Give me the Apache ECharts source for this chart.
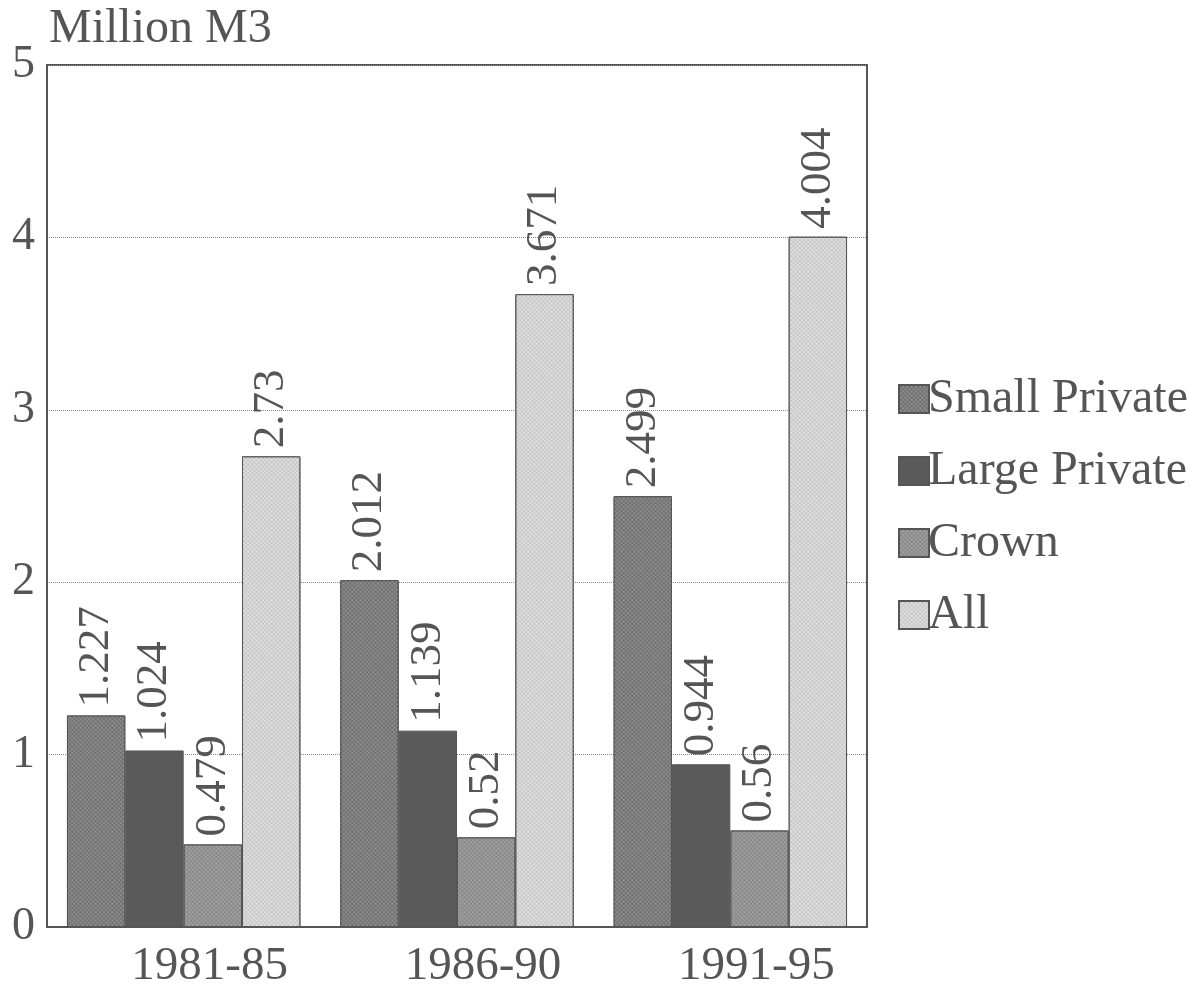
<!DOCTYPE html>
<html>
<head>
<meta charset="utf-8">
<script src="https://cdn.jsdelivr.net/npm/echarts@6/dist/echarts.min.js"></script>
<style>html,body{margin:0;padding:0;background:#fff}#c{width:1203px;height:998px}</style>
</head>
<body>
<div id="c"></div>
<script>
var categories = ['1981-85', '1986-90', '1991-95'];
var seriesNames = ['Small Private', 'Large Private', 'Crown', 'All'];
var smallPrivate = [1.227, 2.012, 2.499];
var largePrivate = [1.024, 1.139, 0.944];
var crown = [0.479, 0.52, 0.56];
var all = [2.73, 3.671, 4.004];
var yTicks = [0, 1, 2, 3, 4, 5];

var colors = ['#6c6c6c', '#5a5a5a', '#858585', '#c4c4c4'];
var decalColors = ['rgba(200,200,200,0.55)', null, 'rgba(210,210,210,0.55)', 'rgba(255,255,255,0.7)'];
var dataSets = [smallPrivate, largePrivate, crown, all];
var font = 'Liberation Serif';
var textColor = '#555';

var chart = echarts.init(document.getElementById('c'));
var series = seriesNames.map(function (n, i) {
  var style = { color: colors[i], borderColor: '#555', borderWidth: 1 };
  if (decalColors[i]) {
    style.decal = { symbol: 'circle', symbolSize: 0.7, color: decalColors[i], dashArrayX: [3, 0], dashArrayY: [3, 0], rotation: Math.PI / 4 };
  }
  return {
    name: n,
    type: 'bar',
    data: dataSets[i],
    barGap: '0%',
    barCategoryGap: '14.6%',
    itemStyle: style,
    label: {
      show: true,
      position: 'top',
      rotate: 90,
      align: 'left',
      verticalAlign: 'middle',
      distance: 8,
      fontFamily: font,
      fontSize: 45,
      color: textColor,
      formatter: function (p) { return String(p.value); }
    }
  };
});

chart.setOption({
  animation: false,
  backgroundColor: '#fff',
  title: {
    text: 'Million M3',
    left: 44, top: 0,
    textStyle: { fontFamily: font, fontSize: 48, fontWeight: 'normal', color: textColor }
  },
  legend: {
    orient: 'vertical',
    left: 893, top: 370,
    itemWidth: 30, itemHeight: 28, itemGap: 24,
    icon: 'rect',
    textStyle: { fontFamily: font, fontSize: 48, lineHeight: 48, color: textColor, padding: [0, 0, 0, -6] },
    data: seriesNames
  },
  grid: {
    left: 47, right: 336, top: 65, bottom: 71,
    show: true, borderColor: '#555', borderWidth: 2, backgroundColor: 'transparent'
  },
  xAxis: {
    type: 'category',
    data: categories,
    axisLine: { show: true, lineStyle: { color: '#555', width: 2 } },
    axisTick: { show: false },
    axisLabel: { fontFamily: font, fontSize: 47, color: textColor, margin: 16, padding: [0, 0, 0, 52] }
  },
  yAxis: {
    type: 'value',
    min: 0, max: 5, interval: 1,
    axisLine: { show: true, lineStyle: { color: '#555', width: 2 } },
    axisTick: { show: false },
    splitLine: { show: true, lineStyle: { color: '#888', type: 'dotted', width: 1 } },
    axisLabel: {
      fontFamily: font, fontSize: 46, color: textColor, margin: 12,
      formatter: function (v) { return yTicks.indexOf(v) >= 0 ? String(v) : ''; }
    }
  },
  series: series
});
</script>
</body>
</html>
